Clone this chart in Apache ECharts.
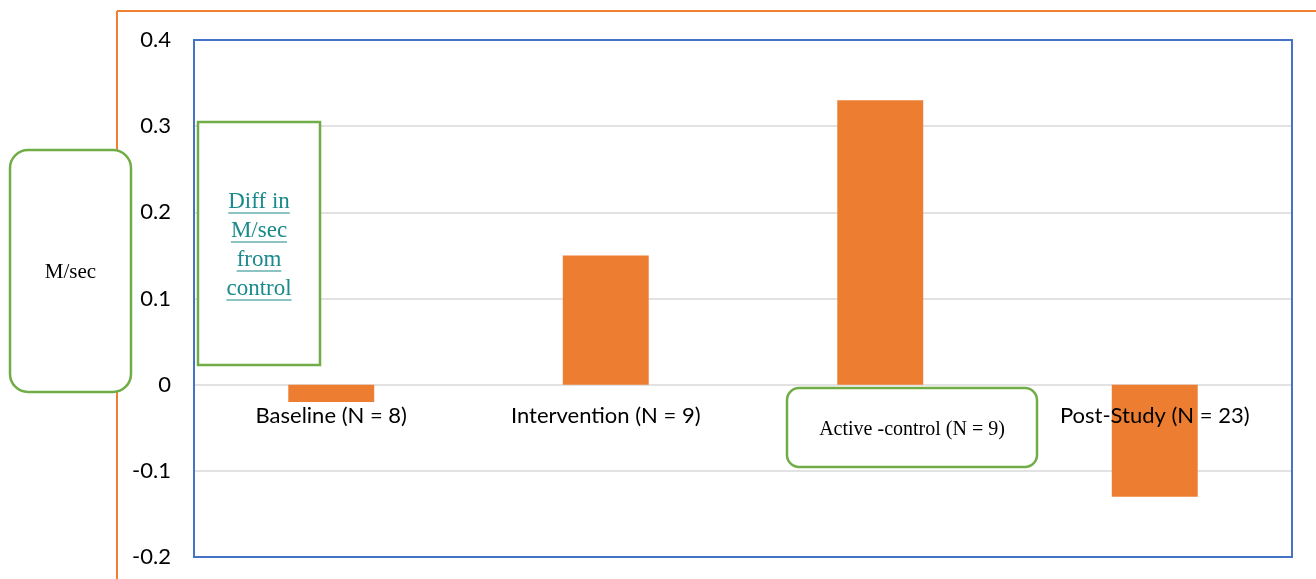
<!DOCTYPE html>
<html>
<head>
<meta charset="utf-8">
<script src="https://cdn.jsdelivr.net/npm/echarts@6/dist/echarts.min.js"></script>
<style>
html,body{margin:0;padding:0;background:#fff;}
#c{width:1316px;height:579px;}
</style>
</head>
<body>
<div id="c"></div>
<script>
const categories = ['Baseline (N = 8)', 'Intervention (N = 9)', 'Active -control (N = 9)', 'Post-Study (N = 23)'];
const values = [-0.02, 0.15, 0.33, -0.13];
const yTicks = { min: -0.2, max: 0.4, interval: 0.1 };
const yAxisTitle = 'M/sec';
const noteLines = ['Diff in', 'M/sec', 'from', 'control'];

const chart = echarts.init(document.getElementById('c'), null, { renderer: 'canvas' });

const GREEN = '#70ad47';
const TEAL = '#1a8a8c';
const BLUE = '#4472c4';
const serif = '"Liberation Serif", "Times New Roman", serif';
const sans = 'Lato, Carlito, Calibri, sans-serif';

function textWidth(t, font) {
  const c = document.createElement('canvas').getContext('2d');
  c.font = font;
  return c.measureText(t).width;
}

const GRID = { left: 194, top: 40, right: 24, bottom: 22 };

const noteFont = 23;
const noteLH = 29;
const noteCx = 259;
const noteCy0 = 202;
const graphics = [
  { type: 'line', shape: { x1: 117, y1: 11, x2: 1316, y2: 11 }, style: { stroke: '#f08030', lineWidth: 2 }, z: 1 },
  { type: 'line', shape: { x1: 117, y1: 11, x2: 117, y2: 579 }, style: { stroke: '#f08030', lineWidth: 2 }, z: 1 },
  // plot-area frame
  { type: 'rect', shape: { x: GRID.left, y: GRID.top, width: 1316 - GRID.left - GRID.right, height: 579 - GRID.top - GRID.bottom }, style: { fill: null, stroke: BLUE, lineWidth: 2 }, z: 9 },
  { type: 'rect', shape: { x: 10, y: 150, width: 121, height: 242, r: 18 }, style: { fill: '#fff', stroke: GREEN, lineWidth: 2.5 }, z: 10 },
  { type: 'text', x: 70.5, y: 272, style: { text: yAxisTitle, fontFamily: serif, fontSize: 21, fill: '#000', align: 'center', verticalAlign: 'middle' }, z: 11 },
  { type: 'rect', shape: { x: 198, y: 122, width: 122, height: 243 }, style: { fill: '#fff', stroke: GREEN, lineWidth: 2.5 }, z: 10 },
  { type: 'rect', shape: { x: 787, y: 388, width: 250, height: 79, r: 12 }, style: { fill: '#fff', stroke: GREEN, lineWidth: 2.5 }, z: 10 },
  { type: 'text', x: 912, y: 430, style: { text: categories[2], fontFamily: serif, fontSize: 20, fill: '#000', align: 'center', verticalAlign: 'middle' }, z: 11 }
];
noteLines.forEach((t, i) => {
  const y = noteCy0 + i * noteLH;
  const w = textWidth(t, noteFont + 'px ' + serif);
  graphics.push({ type: 'text', x: noteCx, y: y, style: { text: t, fontFamily: serif, fontSize: noteFont, fill: TEAL, align: 'center', verticalAlign: 'middle' }, z: 11 });
  graphics.push({ type: 'line', shape: { x1: noteCx - w / 2, y1: y + 11, x2: noteCx + w / 2, y2: y + 11 }, style: { stroke: TEAL, lineWidth: 1.2 }, z: 11 });
});

chart.setOption({
  animation: false,
  backgroundColor: '#fff',
  grid: Object.assign({ containLabel: false, outerBoundsMode: 'none', show: false }, GRID),
  xAxis: {
    type: 'category',
    data: categories,
    z: 5,
    offset: 0,
    axisLine: { show: false, onZero: false },
    axisTick: { show: false },
    axisLabel: {
      margin: 20,
      fontFamily: sans,
      fontSize: 22,
      color: '#000',
      interval: 0,
      formatter: (v, i) => (i === 2 ? '' : v)
    }
  },
  yAxis: {
    type: 'value',
    min: yTicks.min,
    max: yTicks.max,
    interval: yTicks.interval,
    axisLine: { show: false },
    axisTick: { show: false },
    splitLine: { show: true, showMinLine: false, showMaxLine: false, lineStyle: { color: '#d9d9d9', width: 1.5 } },
    axisLabel: {
      margin: 23,
      fontFamily: sans,
      fontSize: 22,
      color: '#000',
      formatter: v => {
        const r = Math.round(v * 10) / 10;
        return r === 0 ? '0' : String(r);
      }
    }
  },
  series: [{
    type: 'bar',
    data: values,
    barWidth: '31.3%',
    itemStyle: { color: '#ed7d31' },
    z: 2
  }],
  graphic: graphics
});

// place the category axis on the zero line (like the original), using the value scale
const zeroY = chart.convertToPixel({ yAxisIndex: 0 }, 0);
const bottomY = chart.getHeight() - GRID.bottom;
chart.setOption({ xAxis: { offset: -(bottomY - zeroY) } });
</script>
</body>
</html>
